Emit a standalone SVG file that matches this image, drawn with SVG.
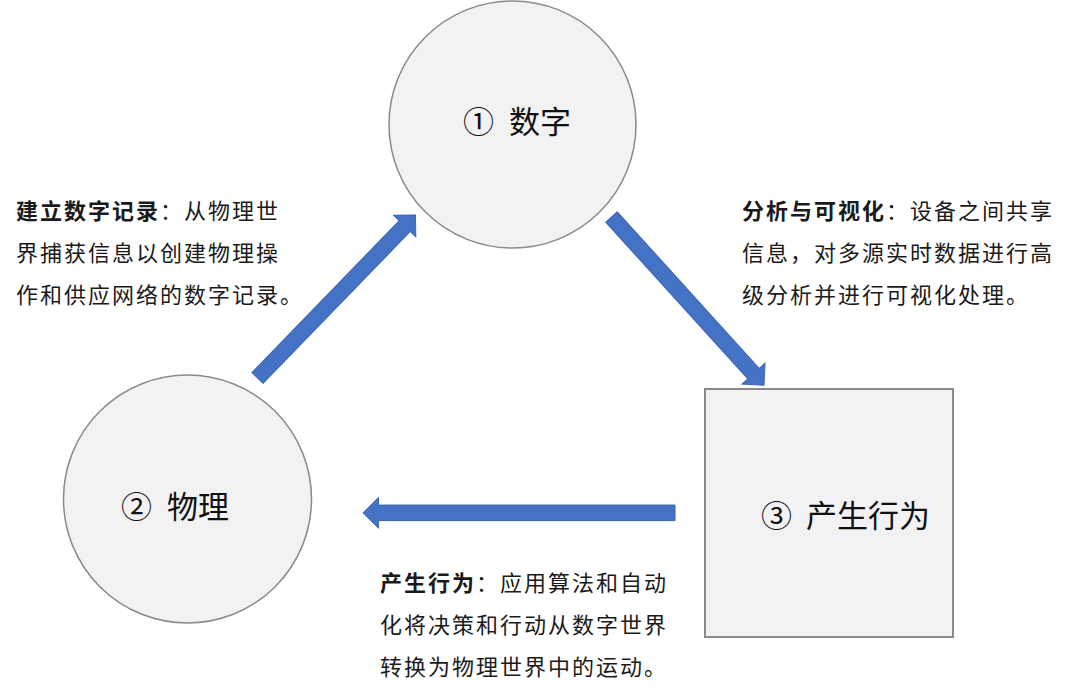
<svg xmlns="http://www.w3.org/2000/svg" width="1080" height="700" viewBox="0 0 1080 700">
  <style>
    .node { fill: #f2f2f2; stroke: #8a8a8a; stroke-width: 1.5; }
    .box { fill: #f2f1f4; stroke: #8a8a8a; stroke-width: 2; }
    .label { font-family: 'Noto Sans CJK SC', sans-serif; font-size: 31px; fill: #111111; }
    .body { font-family: 'Noto Sans CJK SC', sans-serif; font-size: 22px; fill: #1a1a1a; letter-spacing: 2px; }
    .b { font-weight: bold; }
    .arrow { fill: #4472c4; stroke: #3b65b0; stroke-width: 1; stroke-linejoin: miter; }
  </style>
  <rect width="1080" height="700" fill="#ffffff"/>

  <g id="node-digital">
    <circle class="node" cx="512.5" cy="124.5" r="123.5"/>
    <text class="label" y="132.5"><tspan x="463">①</tspan><tspan x="509">数字</tspan></text>
  </g>

  <g id="node-physical">
    <circle class="node" cx="187.5" cy="499" r="124"/>
    <text class="label" y="518"><tspan x="121">②</tspan><tspan x="167">物理</tspan></text>
  </g>

  <g id="node-action">
    <rect class="box" x="705" y="389" width="248" height="248"/>
    <text class="label" y="527"><tspan x="761">③</tspan><tspan x="806">产生行为</tspan></text>
  </g>

  <g id="connectors">
    <g transform="translate(257.5,378) rotate(-45.9)">
      <polygon class="arrow" points="0,-7.75 211.5,-7.75 211.5,-15.5 227,0 211.5,15.5 211.5,7.75 0,7.75"/>
    </g>
    <g transform="translate(611.5,217) rotate(47.8)">
      <polygon class="arrow" points="0,-7.75 211.5,-7.75 211.5,-15.5 227,0 211.5,15.5 211.5,7.75 0,7.75"/>
    </g>
    <g transform="translate(675,512.8) rotate(180)">
      <polygon class="arrow" points="0,-7.75 296.5,-7.75 296.5,-15.5 312,0 296.5,15.5 296.5,7.75 0,7.75"/>
    </g>
  </g>

  <g id="text-record">
    <text class="body" x="16" y="219"><tspan class="b">建立数字记录</tspan>：从物理世</text>
    <text class="body" x="16" y="261">界捕获信息以创建物理操</text>
    <text class="body" x="16" y="303">作和供应网络的数字记录。</text>
  </g>

  <g id="text-analysis">
    <text class="body" x="742" y="219"><tspan class="b">分析与可视化</tspan>：设备之间共享</text>
    <text class="body" x="742" y="261">信息，对多源实时数据进行高</text>
    <text class="body" x="742" y="303">级分析并进行可视化处理。</text>
  </g>

  <g id="text-action">
    <text class="body" x="380" y="591"><tspan class="b">产生行为</tspan>：应用算法和自动</text>
    <text class="body" x="380" y="633">化将决策和行动从数字世界</text>
    <text class="body" x="380" y="675">转换为物理世界中的运动。</text>
  </g>
</svg>
